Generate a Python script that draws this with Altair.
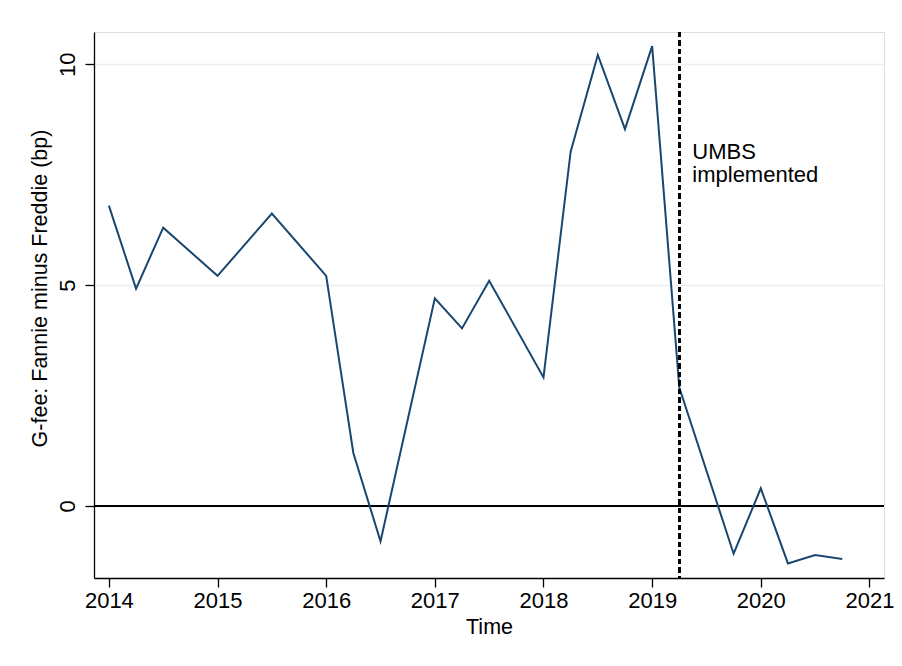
import altair as alt
import pandas as pd

# Quarterly observations (year fraction) and G-fee difference, Fannie minus Freddie (bp)
time = [2014.0, 2014.25, 2014.5, 2015.0, 2015.5, 2016.0, 2016.25, 2016.5,
        2017.0, 2017.25, 2017.5, 2018.0, 2018.25, 2018.5, 2018.75, 2019.0,
        2019.25, 2019.75, 2020.0, 2020.25, 2020.5, 2020.75]
gfee_diff = [6.80, 4.92, 6.30, 5.21, 6.62, 5.21, 1.20, -0.80,
             4.70, 4.02, 5.10, 2.91, 8.02, 10.21, 8.53, 10.41,
             2.68, -1.08, 0.40, -1.30, -1.11, -1.20]

x_ticks = [2014, 2015, 2016, 2017, 2018, 2019, 2020, 2021]
y_ticks = [0, 5, 10]
umbs_date = 2019.25
annotation = "UMBS\nimplemented"

df = pd.DataFrame({"time": time, "gfee": gfee_diff})

FONT = "Liberation Sans"
xscale = alt.Scale(domain=[2013.863, 2021.134], nice=False, zero=False)
yscale = alt.Scale(domain=[-1.63, 10.73], nice=False, zero=False)

W, H = 790, 546

base = alt.Chart(df)

line = base.mark_line(color="#1a476f", strokeWidth=2).encode(
    x=alt.X("time:Q", scale=xscale,
            axis=alt.Axis(values=x_ticks, format="d", title="Time",
                          grid=False, domainColor="black", domainWidth=1.3,
                          tickColor="black", tickWidth=1.3, tickSize=9,
                          labelFont=FONT, labelFontSize=22, labelColor="black",
                          labelBaseline="alphabetic", labelPadding=20,
                          labelFlush=False, labelOverlap=False,
                          titleFont=FONT, titleFontSize=21.5, titleFontWeight="normal",
                          titleColor="black", titleBaseline="alphabetic",
                          titleX=W / 2, titleY=55, titleAnchor="middle")),
    y=alt.Y("gfee:Q", scale=yscale,
            axis=alt.Axis(values=y_ticks, title="G-fee: Fannie minus Freddie (bp)",
                          grid=True, gridColor="#e8f0f1", gridWidth=1.6,
                          domainColor="black", domainWidth=1.3,
                          tickColor="black", tickWidth=1.3, tickSize=9,
                          labelFont=FONT, labelFontSize=22, labelColor="black",
                          labelAngle=-90, labelAlign="center",
                          labelBaseline="alphabetic", labelPadding=11,
                          labelFlush=False, labelOverlap=False,
                          titleFont=FONT, titleFontSize=21.5, titleFontWeight="normal",
                          titleColor="black", titleAngle=-90,
                          titleBaseline="alphabetic", titleAlign="center",
                          titleX=-48, titleY=256)),
)

zero = base.mark_rule(color="black", strokeWidth=2).encode(
    y=alt.datum(0, scale=yscale)
)

umbs = base.mark_rule(color="black", strokeWidth=2, strokeDash=[5, 3.5]).encode(
    x=alt.datum(umbs_date, scale=xscale)
)

label = base.mark_text(
    align="left", baseline="alphabetic", dx=13, font=FONT, fontSize=22,
    lineHeight=23, color="black", text=annotation.split("\n")
).encode(
    x=alt.datum(umbs_date),
    y=alt.datum(7.85),
)

border = base.mark_rule(color="#ececec", strokeWidth=1).encode(
    x=alt.value(-87), y=alt.value(-24), y2=alt.value(642)
)

chart = alt.layer(zero, line, umbs, label.transform_filter("datum.time == 2014"), border).properties(
    width=W, height=H,
    padding={"left": 86, "top": 24, "right": 10, "bottom": 70},
    autosize=alt.AutoSizeParams(type="none"),
).configure_view(stroke=None).configure(background="white")

chart.save("out.html", embed_options={"renderer": "svg", "actions": False})
